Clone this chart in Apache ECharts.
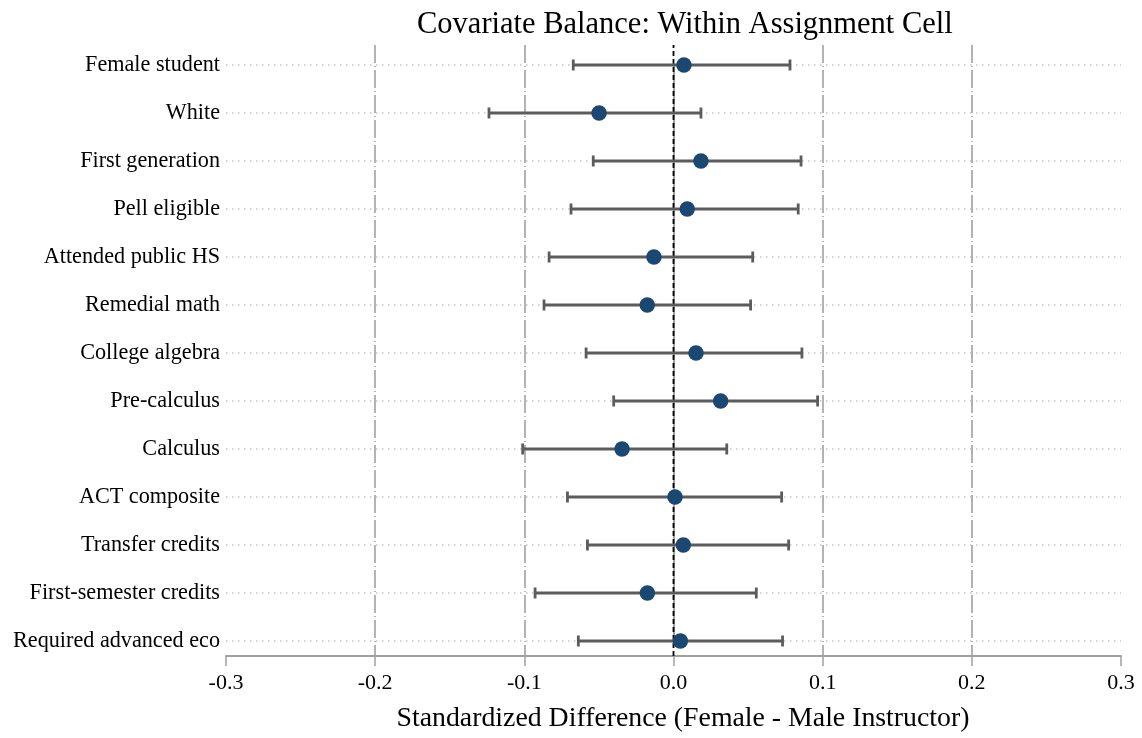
<!DOCTYPE html>
<html>
<head>
<meta charset="utf-8">
<script src="https://cdn.jsdelivr.net/npm/echarts@6/dist/echarts.min.js"></script>
<style>html,body{margin:0;padding:0;background:#fff;}#chart{width:1142px;height:738px;}</style>
</head>
<body>
<div id="chart"></div>
<script>
const categories = ["Female student","White","First generation","Pell eligible","Attended public HS","Remedial math","College algebra","Pre-calculus","Calculus","ACT composite","Transfer credits","First-semester credits","Required advanced eco"];
const estimates = [0.0070,-0.0499,0.0184,0.0092,-0.0131,-0.0176,0.0151,0.0316,-0.0345,0.0010,0.0066,-0.0175,0.0046];
const lowerCI = [-0.0672,-0.1237,-0.0538,-0.0687,-0.0834,-0.0868,-0.0586,-0.0401,-0.1011,-0.0711,-0.0577,-0.0928,-0.0638];
const upperCI = [0.0781,0.0184,0.0855,0.0836,0.0531,0.0517,0.0861,0.0966,0.0357,0.0725,0.0772,0.0555,0.0731];
const xTicks = [-0.3,-0.2,-0.1,0.0,0.1,0.2,0.3];
const referenceLine = [0];

const FONT = "Liberation Serif";
const chart = echarts.init(document.getElementById('chart'));

const ciData = categories.map((c,i)=>[lowerCI[i], upperCI[i], i]);
const ptData = categories.map((c,i)=>[estimates[i], i]);

const option = {
  backgroundColor:'#fff',
  animation:false,
  title:{
    text:'Covariate Balance: Within Assignment Cell',
    left:412, top:4,
    textStyle:{fontFamily:FONT, fontSize:30.5, fontWeight:'normal', color:'#000'}
  },
  grid:[
    {left:226, right:21, top:65, bottom:97, containLabel:false},
    {left:226, right:21, top:45, bottom:79, containLabel:false}
  ],
  xAxis:[
    {gridIndex:0, type:'value', min:-0.3, max:0.3, show:false},
    {gridIndex:1, type:'value', min:-0.3, max:0.3, interval:0.1,
      name:'Standardized Difference (Female - Male Instructor)',
      nameLocation:'middle', nameGap:49,
      nameTextStyle:{fontFamily:FONT, fontSize:27.8, color:'#000', padding:[0,0,0,19]},
      axisLine:{show:true, lineStyle:{color:'#a0a0a0', width:2}},
      axisTick:{show:true, inside:false, length:10, lineStyle:{color:'#a0a0a0', width:1.5}},
      axisLabel:{margin:16, fontFamily:FONT, fontSize:22, color:'#000',
        formatter:v=>xTicks.reduce((a,b)=>Math.abs(b-v)<Math.abs(a-v)?b:a).toFixed(1)},
      splitLine:{show:true, lineStyle:{
        color:['rgba(0,0,0,0)','#9a9a9a','#9a9a9a','rgba(0,0,0,0)','#9a9a9a','#9a9a9a','rgba(0,0,0,0)'],
        width:1.5, type:[18,3,1,3]}}
    }
  ],
  yAxis:[
    {gridIndex:0, type:'category', data:categories, inverse:true, boundaryGap:false,
      axisLine:{show:true, lineStyle:{color:'#a0a0a0', width:2}},
      axisTick:{show:false},
      axisLabel:{margin:6, fontFamily:FONT, fontSize:22.2, color:'#000', interval:0, padding:[4,0,0,0]},
      splitLine:{show:true, lineStyle:{color:'#c4c4c4', width:1.5, type:[1.5,4.5]}}
    },
    {gridIndex:1, type:'value', min:0, max:1, show:false}
  ],
  series:[
    {type:'line', xAxisIndex:1, yAxisIndex:1, symbol:'none', silent:true,
      data:[[referenceLine[0],0],[referenceLine[0],1]],
      lineStyle:{color:'#000', width:1.8, type:[5,3]}, z:2},
    {type:'custom', xAxisIndex:0, yAxisIndex:0, z:3,
      encode:{x:[0,1], y:2},
      data:ciData,
      renderItem:function(params, api){
        const lo = api.coord([api.value(0), api.value(2)]);
        const hi = api.coord([api.value(1), api.value(2)]);
        const h = 5.5;
        const st = {stroke:'#5c5c5c', lineWidth:2.8};
        return {type:'group', children:[
          {type:'line', shape:{x1:lo[0], y1:lo[1], x2:hi[0], y2:hi[1]}, style:st},
          {type:'line', shape:{x1:lo[0], y1:lo[1]-h, x2:lo[0], y2:lo[1]+h}, style:st},
          {type:'line', shape:{x1:hi[0], y1:hi[1]-h, x2:hi[0], y2:hi[1]+h}, style:st}
        ]};
      }
    },
    {type:'scatter', xAxisIndex:0, yAxisIndex:0, z:4,
      data:ptData, symbol:'circle', symbolSize:15.5,
      itemStyle:{color:'#1b4773', opacity:1}}
  ]
};
chart.setOption(option);
</script>
</body>
</html>
